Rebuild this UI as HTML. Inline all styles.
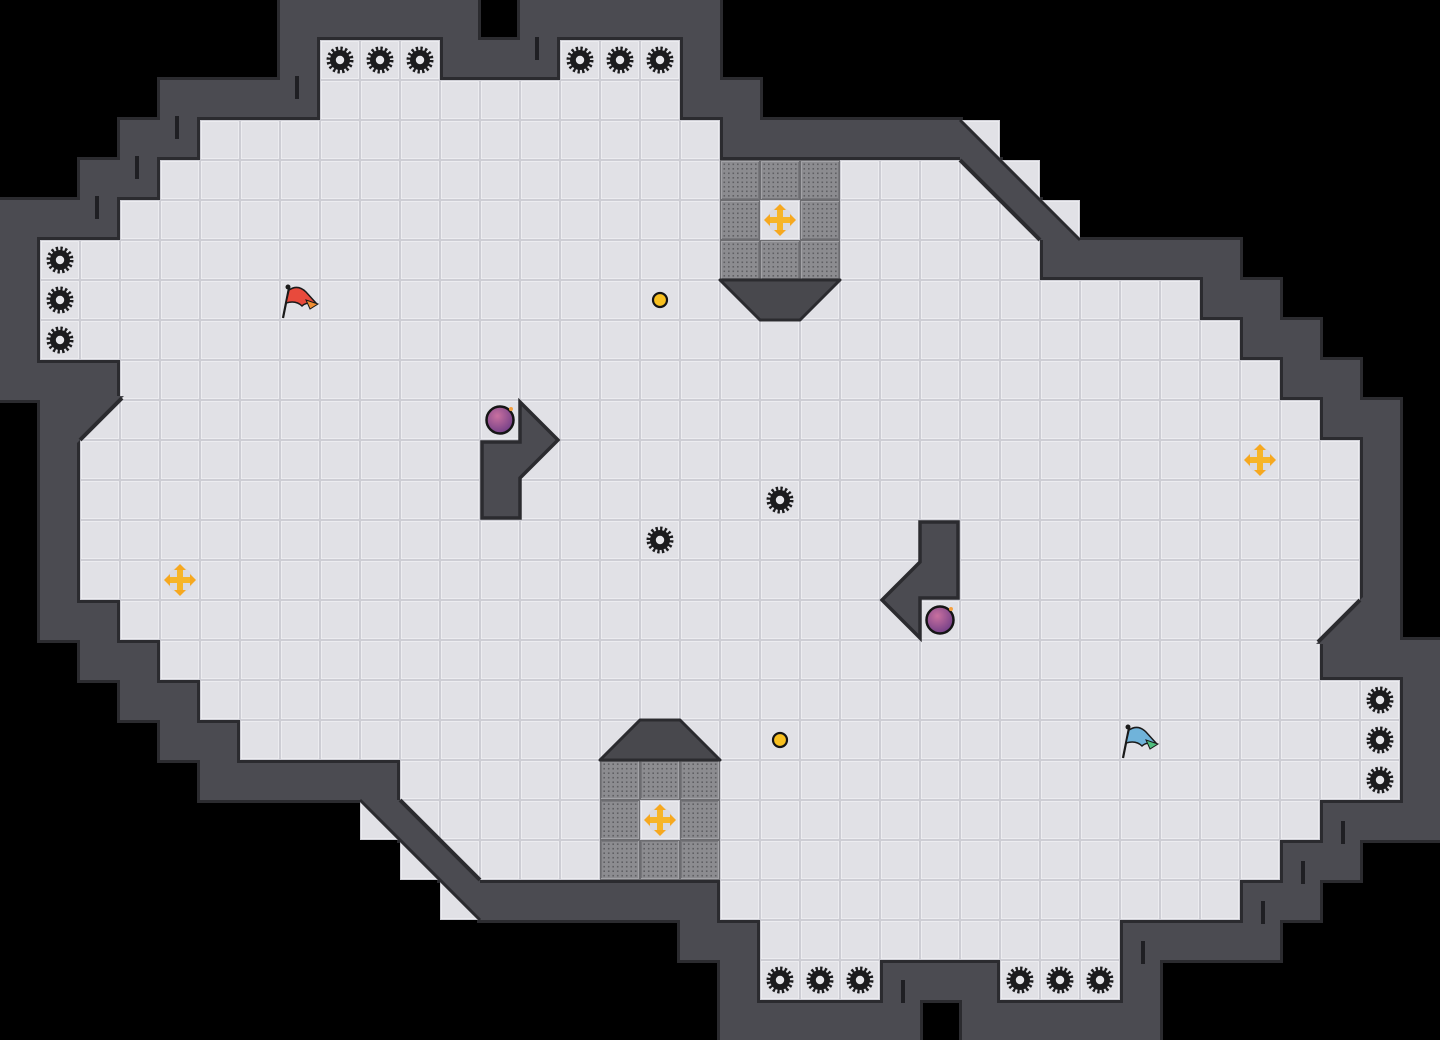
<!DOCTYPE html>
<html><head><meta charset="utf-8"><style>html,body{margin:0;padding:0;background:#000;}svg{display:block}</style></head>
<body>
<svg width="1440" height="1040" viewBox="0 0 1440 1040" xmlns="http://www.w3.org/2000/svg">
<defs>
<pattern id="fl" width="40" height="40" patternUnits="userSpaceOnUse">
<rect width="40" height="40" fill="#cdcdd4"/>
<rect x="1" y="1" width="38" height="38" fill="#ececf0"/>
<rect x="2" y="2" width="36" height="36" fill="#e1e1e6"/>
</pattern>
<pattern id="dots" width="4.5" height="4.5" patternUnits="userSpaceOnUse" x="2" y="2">
<rect width="4.5" height="4.5" fill="#8c8c90"/>
<rect x="1.5" y="1.5" width="1.6" height="1.6" fill="#5f5f63"/>
</pattern>
<g id="gt">
<rect width="40" height="40" fill="#6c6c70"/>
<rect x="1" y="1" width="38" height="38" fill="#a2a2a6"/>
<rect x="2" y="2" width="37" height="37" fill="#77777b"/>
<rect x="2" y="2" width="36" height="36" fill="url(#dots)"/>
</g>
<g id="gear">
<circle r="10" fill="#1c1c1e"/>
<circle r="11.5" fill="none" stroke="#1c1c1e" stroke-width="4" stroke-dasharray="2.3 2.22"/>
<circle r="4.2" fill="#e6e6ea"/>
</g>
<g id="cross">
<circle r="13" fill="#d6d6de" opacity="0.6"/>
<rect x="-11" y="-3" width="22" height="6" fill="#f6b52a"/>
<rect x="-3" y="-11" width="6" height="22" fill="#f6b52a"/>
<polygon points="-16,0 -10,-6 -10,6" fill="#f6a81f"/>
<polygon points="16,0 10,-6 10,6" fill="#f6a81f"/>
<polygon points="0,-16 -6,-10 6,-10" fill="#f6a81f"/>
<polygon points="0,16 -6,10 6,10" fill="#f6a81f"/>
</g>
<radialGradient id="bg" cx="0.4" cy="0.35" r="0.7">
<stop offset="0" stop-color="#c9709f"/><stop offset="1" stop-color="#6e3d86"/>
</radialGradient>
<g id="bomb">
<circle r="13.5" fill="url(#bg)" stroke="#151515" stroke-width="2.5"/>
<circle cx="11" cy="-11" r="2" fill="#f5a040"/>
</g>

<g id="wallO" fill="#2b2b2f">
<rect x="277" y="-3" width="204" height="46"/><rect x="517" y="-3" width="206" height="46"/>
<rect x="277" y="37" width="446" height="46"/>
<rect x="157" y="77" width="606" height="46"/>
<rect x="117" y="117" width="846" height="46"/>
<rect x="77" y="157" width="86" height="46"/>
<rect x="-3" y="197" width="126" height="46"/>
<rect x="-3" y="237" width="1246" height="46"/>
<rect x="-3" y="277" width="1286" height="46"/>
<rect x="-3" y="317" width="1326" height="46"/>
<rect x="-3" y="357" width="1366" height="46"/>
<rect x="37" y="397" width="1366" height="126"/>
</g>
<g id="wall" fill="#4b4b51">
<rect x="280" y="0" width="198" height="40"/><rect x="520" y="0" width="200" height="40"/>
<rect x="280" y="40" width="440" height="40"/>
<rect x="160" y="80" width="600" height="40"/>
<rect x="120" y="120" width="840" height="40"/>
<rect x="80" y="160" width="80" height="40"/>
<rect x="0" y="200" width="120" height="40"/>
<rect x="0" y="240" width="1240" height="40"/>
<rect x="0" y="280" width="1280" height="40"/>
<rect x="0" y="320" width="1320" height="40"/>
<rect x="0" y="360" width="1360" height="40"/>
<rect x="40" y="400" width="1360" height="120"/>
</g>
<g id="slits" fill="#1f1f23">
<rect x="295" y="76" width="4" height="23"/>
<rect x="535" y="37" width="4" height="23"/>
<rect x="175" y="116" width="4" height="23"/>
<rect x="135" y="156" width="4" height="23"/>
<rect x="95" y="196" width="4" height="23"/>
</g>
<g id="floorO" fill="#2b2b2f">
<rect x="317" y="37" width="126" height="46"/><rect x="557" y="37" width="126" height="46"/>
<rect x="317" y="77" width="366" height="46"/>
<rect x="197" y="117" width="526" height="46"/>
<rect x="157" y="157" width="846" height="46"/>
<rect x="117" y="197" width="926" height="46"/>
<rect x="37" y="237" width="1006" height="46"/>
<rect x="37" y="277" width="1166" height="46"/>
<rect x="37" y="317" width="1206" height="46"/>
<rect x="117" y="357" width="1166" height="46"/>
<rect x="77" y="397" width="1246" height="46"/>
<rect x="77" y="437" width="1286" height="86"/>
</g>
<g id="floor" fill="url(#fl)">
<rect x="320" y="40" width="120" height="40"/><rect x="560" y="40" width="120" height="40"/>
<rect x="320" y="80" width="360" height="40"/>
<rect x="200" y="120" width="520" height="40"/>
<rect x="960" y="120" width="40" height="40"/>
<rect x="160" y="160" width="880" height="40"/>
<rect x="120" y="200" width="960" height="40"/>
<rect x="40" y="240" width="1000" height="40"/>
<rect x="40" y="280" width="1160" height="40"/>
<rect x="40" y="320" width="1200" height="40"/>
<rect x="120" y="360" width="1160" height="40"/>
<rect x="80" y="400" width="1240" height="40"/>
<rect x="80" y="440" width="1280" height="80"/>
</g>
<g id="obst">
<polygon points="960,120 1080,240 1040,240 960,160" fill="#4b4b51"/>
<line x1="960" y1="160" x2="1040" y2="240" stroke="#2b2b2f" stroke-width="4"/>
<line x1="960" y1="120" x2="1080" y2="240" stroke="#2b2b2f" stroke-width="3"/>
<polygon points="76,396 124,396 76,444" fill="#4b4b51"/>
<rect x="40" y="400" width="40" height="40" fill="#4b4b51"/>
<line x1="122" y1="398" x2="80" y2="440" stroke="#2b2b2f" stroke-width="4"/>
<use href="#gt" x="720" y="160"/><use href="#gt" x="760" y="160"/><use href="#gt" x="800" y="160"/>
<use href="#gt" x="720" y="200"/><use href="#gt" x="800" y="200"/>
<use href="#gt" x="720" y="240"/><use href="#gt" x="760" y="240"/><use href="#gt" x="800" y="240"/>
<polygon points="720,280 840,280 800,320 760,320" fill="#48484d" stroke="#2b2b2f" stroke-width="3" stroke-linejoin="round"/>
<polygon points="482,442 520,442 520,402 558,440 520,478 520,518 482,518" fill="#4b4b51" stroke="#2b2b2f" stroke-width="3.5"/>
<use href="#gear" x="340" y="60"/><use href="#gear" x="380" y="60"/><use href="#gear" x="420" y="60"/>
<use href="#gear" x="580" y="60"/><use href="#gear" x="620" y="60"/><use href="#gear" x="660" y="60"/>
<use href="#gear" x="60" y="260"/><use href="#gear" x="60" y="300"/><use href="#gear" x="60" y="340"/>
<use href="#gear" x="780" y="500"/>
<use href="#cross" x="780" y="220"/>
<use href="#cross" x="180" y="580"/>
<circle cx="660" cy="300" r="7" fill="#f8c020" stroke="#151515" stroke-width="2.2"/>
</g>
</defs>

<rect width="1440" height="1040" fill="#000"/>
<use href="#wallO"/><use href="#wallO" transform="rotate(180 720 520)"/>
<use href="#wall"/><use href="#wall" transform="rotate(180 720 520)"/>
<use href="#slits"/><use href="#slits" transform="rotate(180 720 520)"/>
<use href="#floorO"/><use href="#floorO" transform="rotate(180 720 520)"/>
<use href="#floor"/><use href="#floor" transform="rotate(180 720 520)"/>
<use href="#obst"/><use href="#obst" transform="rotate(180 720 520)"/>
<use href="#bomb" x="500" y="420"/>
<use href="#bomb" x="940" y="620"/>
<g>
<line x1="283" y1="318" x2="289" y2="288" stroke="#1a1a1a" stroke-width="2.2"/>
<circle cx="288" cy="287" r="2.5" fill="#1a1a1a"/>
<path d="M289,290 Q298,284 306,292 L316,303 Q306,302 302,306 Q296,300 286,303 Z" fill="#e84a3c" stroke="#1a1a1a" stroke-width="1.5"/>
<path d="M306,300 L318,304 L310,309 Z" fill="#f29034" stroke="#1a1a1a" stroke-width="1"/>
</g>
<g>
<line x1="1123" y1="758" x2="1129" y2="728" stroke="#1a1a1a" stroke-width="2.2"/>
<circle cx="1128" cy="727" r="2.5" fill="#1a1a1a"/>
<path d="M1129,730 Q1138,724 1146,732 L1156,743 Q1146,742 1142,746 Q1136,740 1126,743 Z" fill="#70b3da" stroke="#1a1a1a" stroke-width="1.5"/>
<path d="M1146,740 L1158,744 L1150,749 Z" fill="#4fbf7e" stroke="#1a1a1a" stroke-width="1"/>
</g>
</svg>
</body></html>
